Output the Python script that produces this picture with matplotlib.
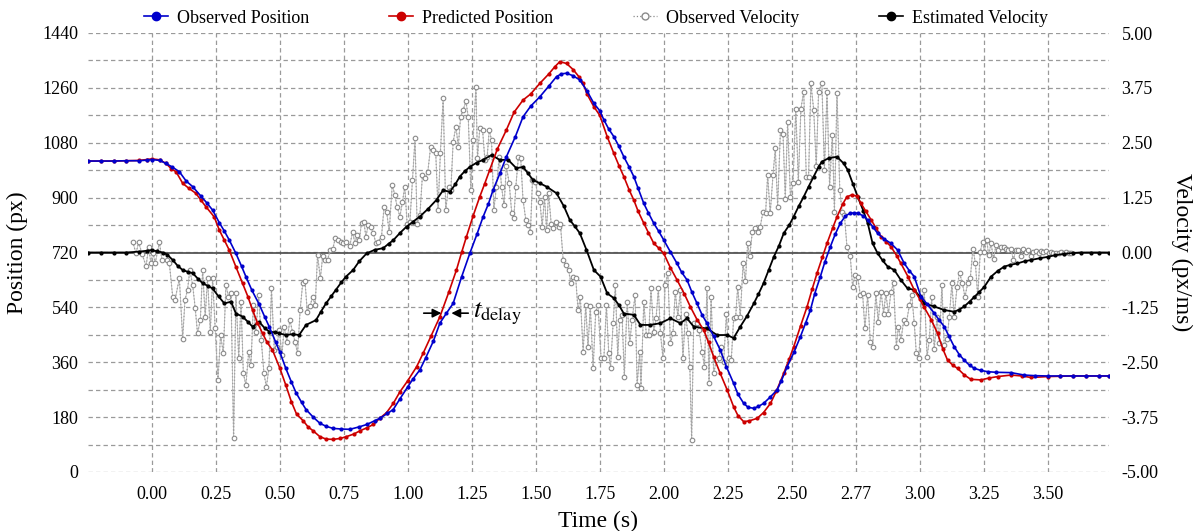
import numpy as np
import matplotlib
matplotlib.use("Agg")
import matplotlib.pyplot as plt
from matplotlib.ticker import MultipleLocator
from matplotlib.lines import Line2D

plt.rcParams['font.family'] = ['Liberation Serif', 'DejaVu Serif']
plt.rcParams['mathtext.fontset'] = 'stix'

# ---------------- data ----------------
t_pos_obs = [-0.25, -0.2, -0.15, -0.1, -0.05, -0.02, 0.0, 0.03, 0.055, 0.08, 0.107, 0.133, 0.159, 0.191,
             0.215, 0.237, 0.263, 0.283, 0.302, 0.328, 0.35, 0.367, 0.39, 0.419, 0.44, 0.458, 0.484, 0.50,
             0.523, 0.545, 0.563, 0.585, 0.602, 0.63, 0.656, 0.68, 0.708, 0.74, 0.773, 0.81, 0.84, 0.87,
             0.89, 0.92, 0.943, 0.969, 1.0, 1.02, 1.047, 1.07, 1.1, 1.125, 1.15, 1.177, 1.21, 1.242, 1.27,
             1.294, 1.315, 1.333, 1.36, 1.385, 1.42, 1.45, 1.48, 1.516, 1.55, 1.581, 1.60, 1.62, 1.645,
             1.672, 1.70, 1.727, 1.75, 1.766, 1.785, 1.805, 1.825, 1.844, 1.865, 1.883, 1.90, 1.922, 1.94,
             1.961, 1.98, 2.0, 2.026, 2.052, 2.07, 2.091, 2.11, 2.13, 2.15, 2.169, 2.195, 2.221, 2.245,
             2.273, 2.29, 2.3125, 2.33, 2.352, 2.37, 2.39, 2.415, 2.443, 2.46, 2.482, 2.51, 2.534, 2.555,
             2.573, 2.59, 2.612, 2.63, 2.651, 2.67, 2.69, 2.71, 2.729, 2.745, 2.758, 2.78, 2.797, 2.816,
             2.836, 2.86, 2.888, 2.914, 2.94, 2.96, 2.979, 3.005, 3.03, 3.057, 3.075, 3.096, 3.115, 3.135,
             3.155, 3.174, 3.195, 3.214, 3.24, 3.266, 3.3, 3.357, 3.409, 3.45, 3.5, 3.55, 3.6, 3.65, 3.7, 3.74]
pos_obs = [1020, 1020, 1020, 1021, 1021, 1023, 1025, 1022, 1012, 1000, 985, 955, 936, 905,
           882, 859, 818, 790, 761, 717, 675, 641, 597, 550, 510, 477, 425, 393,
           340, 295, 260, 228, 205, 180, 160, 150, 143, 141, 140, 148, 156, 168,
           176, 192, 205, 240, 280, 305, 335, 375, 430, 488, 520, 553, 640, 717, 780,
           837, 880, 925, 980, 1034, 1100, 1165, 1200, 1231, 1265, 1297, 1306, 1308, 1300,
           1286, 1250, 1209, 1185, 1155, 1125, 1100, 1068, 1034, 1000, 969, 930, 881, 850,
           816, 790, 761, 722, 684, 655, 630, 590, 553, 515, 488, 445, 400, 345,
           291, 255, 225, 212, 209, 215, 225, 245, 269, 300, 345, 395, 444, 490,
           531, 585, 641, 690, 739, 780, 816, 840, 849, 850, 849, 840, 827, 805,
           783, 765, 750, 728, 684, 660, 641, 575, 550, 521, 500, 477, 445, 411,
           385, 367, 350, 340, 333, 329, 327, 326, 318, 316, 315, 315, 315, 315, 315, 315]

t_pos_pred = [-0.25, -0.2, -0.15, -0.1, -0.05, -0.02, 0.0, 0.03, 0.055, 0.075, 0.094, 0.12, 0.145, 0.172,
              0.19, 0.211, 0.243, 0.263, 0.283, 0.302, 0.328, 0.354, 0.375, 0.393, 0.412, 0.432, 0.45,
              0.471, 0.50, 0.523, 0.545, 0.565, 0.591, 0.61, 0.63, 0.656, 0.68, 0.708, 0.735, 0.76, 0.79,
              0.8125, 0.84, 0.865, 0.89, 0.917, 0.943, 0.969, 1.0, 1.034, 1.06, 1.09, 1.125, 1.16, 1.19,
              1.21, 1.229, 1.255, 1.281, 1.30, 1.32, 1.35, 1.385, 1.415, 1.45, 1.48, 1.516, 1.55, 1.575,
              1.594, 1.62, 1.646, 1.67, 1.685, 1.70, 1.727, 1.75, 1.779, 1.805, 1.825, 1.844, 1.865,
              1.883, 1.90, 1.922, 1.94, 1.961, 1.98, 2.0, 2.026, 2.052, 2.08, 2.104, 2.13, 2.156, 2.175,
              2.195, 2.22, 2.248, 2.273, 2.29, 2.3125, 2.335, 2.365, 2.39, 2.417, 2.44, 2.469, 2.49,
              2.508, 2.535, 2.56, 2.58, 2.599, 2.62, 2.638, 2.66, 2.677, 2.70, 2.716, 2.735, 2.755,
              2.771, 2.79, 2.81, 2.83, 2.849, 2.87, 2.888, 2.91, 2.927, 2.955, 2.979, 3.0, 3.018, 3.045,
              3.07, 3.09, 3.109, 3.13, 3.148, 3.175, 3.2, 3.24, 3.27, 3.305, 3.357, 3.4, 3.435, 3.5,
              3.55, 3.6, 3.65, 3.7, 3.74]
pos_pred = [1020, 1020, 1020, 1021, 1022, 1025, 1027, 1024, 1012, 995, 985, 947, 930, 914,
            893, 870, 837, 794, 760, 728, 673, 619, 575, 531, 490, 455, 425,
            400, 340, 285, 230, 190, 168, 148, 135, 116, 108, 107, 110, 116, 125,
            135, 145, 156, 176, 195, 225, 263, 300, 345, 390, 445, 509, 590, 663,
            720, 772, 840, 903, 945, 991, 1060, 1122, 1180, 1220, 1240, 1275, 1305, 1330,
            1346, 1340, 1320, 1295, 1275, 1240, 1198, 1170, 1100, 1045, 1005, 969, 925,
            892, 855, 816, 785, 750, 735, 717, 670, 630, 585, 542, 500, 466, 425,
            378, 325, 269, 214, 185, 165, 168, 176, 195, 225, 265, 324, 370,
            411, 480, 542, 600, 652, 705, 750, 800, 837, 880, 903, 909, 905,
            881, 855, 827, 800, 772, 755, 739, 710, 684, 640, 597, 568, 540, 500,
            455, 405, 367, 350, 340, 318, 304, 302, 308, 313, 318, 315, 310, 313,
            314, 315, 315, 315, 315]

t_vel_est = [-0.25, -0.2, -0.15, -0.1, -0.05, -0.02, 0.0, 0.02, 0.042, 0.06, 0.081, 0.10, 0.12, 0.14,
             0.159, 0.18, 0.198, 0.218, 0.237, 0.26, 0.283, 0.309, 0.328, 0.354, 0.375, 0.393, 0.419,
             0.44, 0.458, 0.48, 0.497, 0.523, 0.55, 0.575, 0.602, 0.641, 0.66, 0.68, 0.70, 0.719, 0.74,
             0.758, 0.786, 0.81, 0.839, 0.87, 0.904, 0.925, 0.943, 0.97, 0.995, 1.02, 1.047, 1.08,
             1.112, 1.138, 1.164, 1.185, 1.203, 1.222, 1.242, 1.27, 1.294, 1.327, 1.359, 1.392, 1.424,
             1.45, 1.47, 1.489, 1.515, 1.542, 1.581, 1.61, 1.633, 1.652, 1.672, 1.698, 1.727, 1.753,
             1.779, 1.805, 1.825, 1.844, 1.883, 1.909, 1.948, 1.987, 2.026, 2.065, 2.091, 2.117, 2.169,
             2.208, 2.248, 2.273, 2.299, 2.325, 2.352, 2.37, 2.39, 2.41, 2.43, 2.45, 2.469, 2.49, 2.508,
             2.527, 2.547, 2.566, 2.586, 2.605, 2.618, 2.645, 2.677, 2.703, 2.719, 2.74, 2.758, 2.78,
             2.797, 2.816, 2.836, 2.855, 2.875, 2.901, 2.927, 2.953, 2.979, 3.0, 3.018, 3.057, 3.096,
             3.135, 3.155, 3.174, 3.195, 3.214, 3.233, 3.253, 3.279, 3.305, 3.331, 3.355, 3.381, 3.41,
             3.435, 3.47, 3.5, 3.53, 3.565, 3.6, 3.63, 3.67, 3.7, 3.74]
vel_est = [0.0, 0.0, 0.0, 0.0, 0.02, 0.04, 0.05, 0.03, 0.0, -0.05, -0.17, -0.30, -0.40, -0.44,
           -0.47, -0.60, -0.70, -0.76, -0.82, -1.00, -1.16, -1.12, -1.39, -1.46, -1.58, -1.69, -1.58,
           -1.72, -1.80, -1.82, -1.84, -1.88, -1.86, -1.88, -1.65, -1.54, -1.35, -1.16, -1.00, -0.85, -0.68,
           -0.55, -0.40, -0.20, -0.02, 0.06, 0.10, 0.20, 0.28, 0.45, 0.59, 0.70, 0.82, 1.00,
           1.20, 1.42, 1.38, 1.55, 1.73, 1.85, 1.95, 2.05, 2.11, 2.22, 2.11, 2.11, 1.92,
           1.95, 1.80, 1.65, 1.58, 1.50, 1.35, 1.05, 0.74, 0.60, 0.44, 0.06, -0.40, -0.55,
           -0.93, -1.04, -1.20, -1.39, -1.42, -1.65, -1.65, -1.61, -1.50, -1.61, -1.50, -1.69, -1.73,
           -1.88, -1.88, -1.95, -1.69, -1.45, -1.16, -0.95, -0.70, -0.40, -0.10, 0.15, 0.44, 0.62, 0.82,
           1.05, 1.27, 1.50, 1.73, 1.95, 2.07, 2.15, 2.18, 2.03, 1.88, 1.55, 1.27, 0.95,
           0.67, 0.21, -0.02, -0.18, -0.32, -0.40, -0.63, -0.82, -0.85, -1.00, -1.16, -1.23, -1.31,
           -1.35, -1.30, -1.23, -1.12, -1.01, -0.90, -0.78, -0.55, -0.42, -0.32, -0.28, -0.25, -0.20,
           -0.17, -0.13, -0.10, -0.06, -0.03, -0.01, 0.0, 0.0, 0.0, 0.0]

t_vel_obs = [-0.0755, -0.0625, -0.052, -0.039, -0.023, -0.013, -0.004, 0.003, 0.013, 0.029, 0.039, 0.057,
             0.068, 0.081, 0.090, 0.107, 0.120, 0.129, 0.139, 0.148, 0.159, 0.169, 0.178, 0.189, 0.198,
             0.208, 0.217, 0.228, 0.237, 0.247, 0.258, 0.268, 0.279, 0.289, 0.299, 0.309, 0.319, 0.328,
             0.339, 0.348, 0.357, 0.367, 0.378, 0.387, 0.396, 0.406, 0.417, 0.427, 0.4375, 0.447, 0.457,
             0.467, 0.478, 0.488, 0.497, 0.508, 0.517, 0.527, 0.539, 0.549, 0.559, 0.569, 0.579, 0.589,
             0.598, 0.607, 0.617, 0.628, 0.638, 0.647, 0.658, 0.667, 0.677, 0.686, 0.697, 0.707, 0.716,
             0.727, 0.737, 0.747,
             0.760, 0.773, 0.784, 0.793, 0.802, 0.810, 0.819, 0.828, 0.836, 0.845, 0.854, 0.865, 0.875,
             0.884, 0.897, 0.907, 0.917, 0.927, 0.939, 0.949, 0.958, 0.969, 0.979, 0.988, 0.997, 1.008,
             1.018, 1.028, 1.036, 1.047, 1.057, 1.068, 1.078, 1.089, 1.099, 1.109, 1.118, 1.127, 1.138,
             1.148, 1.159, 1.168, 1.177, 1.188, 1.197, 1.206, 1.216, 1.227, 1.236, 1.246, 1.255, 1.266,
             1.272, 1.281, 1.292, 1.301, 1.310, 1.318, 1.327, 1.336, 1.346, 1.357, 1.366, 1.376, 1.385,
             1.396, 1.406, 1.414, 1.422, 1.432, 1.441, 1.450, 1.461, 1.470, 1.479, 1.487, 1.498, 1.507,
             1.516, 1.525, 1.534, 1.542, 1.550, 1.560, 1.568, 1.578, 1.589, 1.596, 1.607, 1.617, 1.628,
             1.637, 1.646, 1.656, 1.665, 1.674, 1.685, 1.695, 1.704, 1.713, 1.724, 1.734, 1.743,
             1.755, 1.766, 1.776, 1.785, 1.792, 1.802, 1.811, 1.820, 1.828, 1.837, 1.846, 1.857, 1.867,
             1.876, 1.888, 1.896, 1.906, 1.911, 1.922, 1.932, 1.941, 1.950, 1.961, 1.970, 1.979, 1.987,
             1.997, 2.005, 2.016, 2.026, 2.036, 2.045, 2.055, 2.065, 2.075, 2.085, 2.094, 2.102, 2.109,
             2.117, 2.128, 2.138, 2.150, 2.159, 2.169, 2.177, 2.185, 2.195, 2.206, 2.215, 2.224, 2.234,
             2.245, 2.254, 2.264, 2.273, 2.281, 2.289, 2.299, 2.310, 2.319, 2.328, 2.336, 2.346, 2.357,
             2.367, 2.377, 2.388, 2.398, 2.406, 2.416, 2.427, 2.436, 2.445, 2.456, 2.466, 2.475, 2.484,
             2.495, 2.505, 2.516, 2.526, 2.536, 2.547, 2.557, 2.566, 2.575, 2.586, 2.596, 2.605, 2.618,
             2.628, 2.638, 2.648, 2.659, 2.667, 2.677, 2.688, 2.697, 2.706, 2.716,
             2.729, 2.738, 2.747, 2.758, 2.768, 2.777, 2.786, 2.797, 2.807, 2.816, 2.829, 2.838, 2.849,
             2.859, 2.868, 2.878, 2.888, 2.898, 2.909, 2.917, 2.927, 2.938, 2.948, 2.960, 2.969, 2.979,
             2.987, 2.997, 3.008, 3.018, 3.029, 3.038, 3.047, 3.057, 3.068, 3.077, 3.087, 3.096, 3.107,
             3.116, 3.126, 3.135, 3.146, 3.156, 3.167, 3.177, 3.188, 3.198, 3.208, 3.218, 3.227, 3.237,
             3.246, 3.253, 3.262, 3.270, 3.279, 3.289, 3.298, 3.307, 3.318, 3.328, 3.337, 3.346, 3.357,
             3.366, 3.376, 3.385, 3.396, 3.405, 3.415, 3.424, 3.435, 3.444, 3.454, 3.465, 3.474, 3.484,
             3.494, 3.504, 3.513, 3.523, 3.532, 3.543, 3.553, 3.563, 3.573, 3.583, 3.593]
vel_obs = [0.25, -0.02, 0.23, -0.03, -0.31, 0.13, -0.25, 0.0, -0.23, 0.23, -0.17, -0.17,
           -0.25, -1.01, -1.08, -0.59, -1.96, -1.08, -0.85, -0.40, -0.74, -1.27, -1.84, -1.54, -0.40,
           -1.46, -0.59, -1.80, -0.59, -1.73, -2.90, -1.88, -2.30, -0.74, -1.01, -0.93, -4.23, -0.93,
           -2.41, -1.12, -2.75, -3.02, -2.26, -2.56, -1.20, -1.80, -0.97, -1.99, -2.75, -3.06, -2.64,
           -0.82, -2.22, -2.15, -1.77, -2.33, -1.69, -2.03, -1.54, -1.80, -2.03, -2.30, -1.31, -0.70,
           -0.66, -1.35, -1.23, -1.01, -1.20, -0.06, -0.59, -0.09, -0.17, -0.17, 0.06, 0.09, 0.32,
           0.28, 0.25, 0.21,
           0.25, 0.15, 0.47, 0.21, 0.40, 0.28, 0.68, 0.70, 0.36, 0.63, 0.59, 0.44, 0.21,
           0.25, 0.36, 1.04, 0.93, 0.47, 1.54, 1.31, 1.04, 0.82, 1.16, 1.50, 0.66, 0.70,
           1.65, 2.60, 0.66, 0.85, 1.77, 1.69, 1.84, 2.41, 2.33, 2.26, 0.97, 2.26, 3.51,
           0.97, 1.50, 1.42, 2.52, 2.87, 2.41, 3.09, 3.25, 3.44, 3.09, 1.42, 2.56, 3.78,
           2.15, 2.83, 2.79, 2.11, 2.18, 2.79, 2.56, 0.97, 1.50, 2.18, 1.50, 1.08, 1.96,
           1.58, 0.89, 0.78, 1.50, 2.18, 2.15, 1.20, 0.74, 0.63, 0.47, 1.65, 1.61, 1.35,
           1.16, 0.59, 1.27, 0.51, 1.35, 0.66, 0.55, 0.70, 0.59, 0.66, -0.17, -0.28, -0.40,
           -0.70, -0.55, -0.59, -1.31, -1.01, -2.26, -1.20, -2.15, -1.23, -2.64, -1.35, -1.20,
           -2.41, -2.41, -1.20, -2.30, -2.62, -1.61, -0.74, -2.37, -1.54, -1.42, -2.83, -1.12, -2.07,
           -1.54, -0.97, -3.02, -2.26, -3.09, -1.12, -1.88, -1.88, -0.82, -1.80, -1.50, -0.82, -1.84,
           -2.41, -0.74, -0.47, -2.07, -1.84, -0.89, -1.46, -0.85, -2.41, -1.39, -1.84, -2.60, -4.27,
           -1.61, -1.61, -1.77, -2.26, -2.60, -0.82, -2.98, -1.01, -2.75, -2.45, -2.41, -2.15, -2.49,
           -1.39, -2.41, -2.45, -1.50, -1.46, -0.78, -1.46, -0.25, -0.66, 0.21, -0.09, 0.47, 0.55,
           0.47, 0.59, 0.93, 0.89, 1.77, 0.89, 1.77, 2.37, 1.04, 2.79, 2.71, 1.23, 2.98,
           1.27, 1.58, 3.28, 1.61, 3.28, 3.66, 1.73, 1.73, 3.85, 3.25, 1.96, 3.66, 3.85,
           1.88, 3.66, 1.50, 2.68, 0.93, 3.63, 1.42, 0.93, 0.85, 0.13,
           -0.09, -0.78, -0.51, -0.55, -0.97, -0.93, -1.73, -0.97, -2.03, -2.15, -0.93, -1.58, -0.89,
           -1.39, -0.93, -1.39, -0.89, -0.70, -2.15, -1.69, -1.99, -1.54, -1.61, -1.20, -0.97, -1.61,
           -2.30, -2.41, -1.08, -0.85, -2.37, -1.99, -1.01, -2.20, -1.46, -2.07, -0.74, -2.11, -1.96,
           -1.46, -0.70, -1.46, -0.78, -0.47, -0.70, -1.01, -0.70, -0.59, 0.09, -0.25, -1.01, 0.02,
           0.25, 0.02, 0.28, -0.06, 0.21, -0.15, 0.17, 0.06, 0.13, 0.12, 0.09, 0.06, 0.09,
           -0.17, 0.06, 0.06, -0.09, 0.07, 0.02, 0.06, -0.09, 0.02, 0.04, 0.0, 0.04, 0.02,
           0.03, 0.0, 0.02, 0.0, 0.0, -0.02, 0.01, 0.0, 0.01, 0.0, 0.0]

x_ticks = [0.0, 0.25, 0.5, 0.75, 1.0, 1.25, 1.5, 1.75, 2.0, 2.25, 2.5, 2.75, 3.0, 3.25, 3.5]
x_labels = ['0.00', '0.25', '0.50', '0.75', '1.00', '1.25', '1.50', '1.75', '2.00', '2.25', '2.50',
            '2.77', '3.00', '3.25', '3.50']
pos_ticks = [0, 180, 360, 540, 720, 900, 1080, 1260, 1440]
vel_ticks = [-5.0, -3.75, -2.5, -1.25, 0.0, 1.25, 2.5, 3.75, 5.0]

# ---------------- figure ----------------
W, H = 1199, 531
fig = plt.figure(figsize=(W / 100, H / 100), dpi=100)
rect = [88 / W, 1 - 472 / H, (1109 - 88) / W, (472 - 33) / H]
ax = fig.add_axes(rect)
ax2 = ax.twinx()
ax3 = fig.add_axes(rect, sharex=ax)

XL = (-0.25, 3.74)
grid_kw = dict(color='#9a9a9a', linestyle=(0, (3.5, 2.5)), linewidth=0.9)

ax.set_xlim(*XL)
ax.set_ylim(0, 1440)
ax.set_yticks(pos_ticks)
ax.yaxis.set_minor_locator(MultipleLocator(90))
ax.set_xticks(x_ticks)
ax.set_xticklabels(x_labels)
ax.grid(True, which='major', axis='x', **grid_kw)
ax.grid(True, which='both', axis='y', **grid_kw)
ax.tick_params(axis='both', which='both', length=0, labelsize=13)
ax.tick_params(axis='x', pad=10)
ax.tick_params(axis='y', pad=7)
for s in ax.spines.values():
    s.set_visible(False)
ax.set_ylabel('Position (px)', fontsize=17, labelpad=10)
ax.set_xlabel('Time (s)', fontsize=17, labelpad=6)

ax2.set_ylim(-5, 5)
ax2.set_yticks(vel_ticks)
ax2.set_yticklabels(['%.2f' % v for v in vel_ticks])
ax2.tick_params(axis='y', length=0, labelsize=13, pad=9)
for s in ax2.spines.values():
    s.set_visible(False)
ax2.set_ylabel('Velocity (px/ms)', fontsize=17, rotation=270, labelpad=24)

ax2.axhline(0, color='#555555', linewidth=1.3, zorder=1)
ax2.plot(t_vel_obs, vel_obs, linestyle='-', color='#b8b8b8', linewidth=0.6, zorder=1.9)
l_ov, = ax2.plot(t_vel_obs, vel_obs, linestyle=':', color='#a0a0a0', linewidth=0.9,
                 marker='o', markersize=3.3, markerfacecolor='white', markeredgecolor='#8a8a8a',
                 markeredgewidth=0.8, zorder=2)
l_ev, = ax2.plot(t_vel_est, vel_est, '-', color='black', linewidth=1.3,
                 marker='o', markersize=2.0, zorder=3)

ax3.set_ylim(0, 1440)
ax3.set_xlim(*XL)
ax3.axis('off')
l_op, = ax3.plot(t_pos_obs, pos_obs, '-', color='#0000cc', linewidth=1.2,
                 marker='o', markersize=3.0, markeredgewidth=0, zorder=4)
l_pp, = ax3.plot(t_pos_pred, pos_pred, '-', color='#cc0000', linewidth=1.2,
                 marker='o', markersize=3.0, markeredgewidth=0, zorder=3)
ax3.set_zorder(ax2.get_zorder() + 1)

# t_delay annotation
arrow_kw = dict(arrowstyle='-|>', color='black', lw=1.2, mutation_scale=13, shrinkA=0, shrinkB=0)
ax3.annotate('', xy=(1.131, 521), xytext=(1.062, 521), arrowprops=arrow_kw)
ax3.annotate('', xy=(1.170, 521), xytext=(1.236, 521), arrowprops=arrow_kw)
ax3.text(1.255, 519, r'$t_{\mathrm{delay}}$', fontsize=19, va='center', ha='left')

# legend
h1 = Line2D([], [], color='#0000cc', lw=1.2, marker='o', markersize=6)
h2 = Line2D([], [], color='#cc0000', lw=1.2, marker='o', markersize=6)
h3 = Line2D([], [], color='#8a8a8a', lw=0.9, linestyle=':', marker='o', markersize=5,
            markerfacecolor='white', markeredgecolor='#8a8a8a')
h4 = Line2D([], [], color='black', lw=1.2, marker='o', markersize=6)
fig.legend([h1, h2, h3, h4],
           ['Observed Position', 'Predicted Position', 'Observed Velocity', 'Estimated Velocity'],
           loc='center', bbox_to_anchor=(0.497, 0.966), ncol=4, frameon=False, fontsize=13,
           handlelength=1.35, handletextpad=0.5, columnspacing=4.4, borderaxespad=0)

fig.savefig('out.png', dpi=100)
